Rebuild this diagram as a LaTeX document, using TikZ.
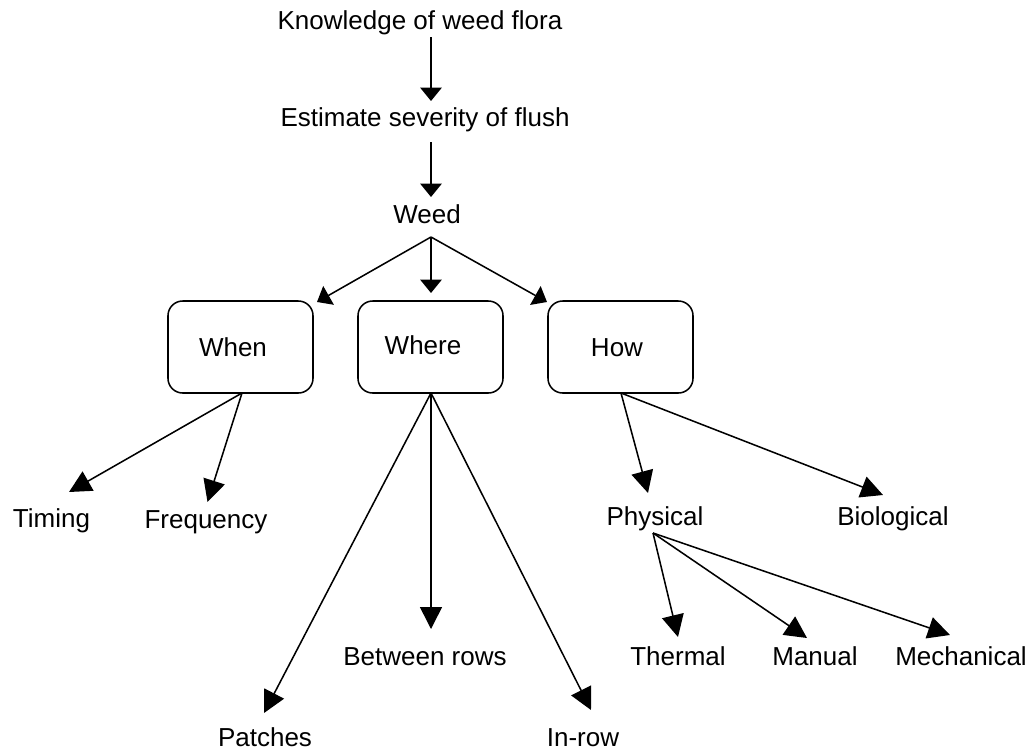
\documentclass[tikz,border=0pt]{standalone}
\usepackage{fontspec}
\setmainfont{Liberation Sans}
\usetikzlibrary{arrows.meta}
\begin{document}
\begin{tikzpicture}[x=0.75pt,y=-0.75pt,
  lbl/.style={font=\fontsize{19.5}{23}\selectfont, inner sep=0pt, anchor=base},
  box/.style={draw, line width=1.15pt, rounded corners=11pt, inner sep=0pt, outer sep=0pt,
              minimum width=108.75pt, minimum height=69pt},
  conn/.style={line width=1.15pt, -{Triangle[length=16.5pt,width=16.5pt]}},
  shortconn/.style={line width=1.15pt, -{Triangle[length=10pt,width=16pt]}}]
\useasboundingbox (0,0) rectangle (1036,751);

% text nodes
\node[lbl] (know) at (420,29) {Knowledge of weed flora};
\node[lbl] (est) at (425,126) {Estimate severity of flush};
\node[lbl] (weed) at (427,223) {Weed};

\node[box] (whenbox) at (240.5,347) {};
\node[box] (wherebox) at (430.5,347) {};
\node[box] (howbox) at (620.5,347) {};
\node[lbl] (when) at (233,356) {When};
\node[lbl] (where) at (423,354) {Where};
\node[lbl] (how) at (617,356) {How};

\node[lbl] (timing) at (51.5,527) {Timing};
\node[lbl] (freq) at (206,528) {Frequency};
\node[lbl] (between) at (425,665) {Between rows};
\node[lbl] (patches) at (265,746) {Patches};
\node[lbl] (inrow) at (583,746) {In-row};
\node[lbl] (phys) at (655,525) {Physical};
\node[lbl] (bio) at (893,525) {Biological};
\node[lbl] (thermal) at (678,665) {Thermal};
\node[lbl] (manual) at (815,665) {Manual};
\node[lbl] (mech) at (961,665) {Mechanical};

% connection points
\coordinate (knowout) at (431,37);
\coordinate (estin) at (431,101);
\coordinate (estout) at (431,142);
\coordinate (weedin) at (431,197);
\coordinate (weedout) at (431,237);
\coordinate (whenin) at (317,302);
\coordinate (wherein) at (431,293);
\coordinate (howin) at (547,302);
\coordinate (whenout) at (242,393);
\coordinate (wherout) at (431,393);
\coordinate (howout) at (621,393);
\coordinate (timingin) at (69,492);
\coordinate (freqin) at (207.5,502);
\coordinate (patchesin) at (264,713);
\coordinate (betweenin) at (431,629);
\coordinate (inrowin) at (591,710);
\coordinate (physin) at (648,493);
\coordinate (bioin) at (883,495);
\coordinate (physout) at (653,533);
\coordinate (thermalin) at (678,637);
\coordinate (manualin) at (807,638);
\coordinate (mechin) at (950,635);

% connectors
\draw[shortconn] (knowout) -- (estin);
\draw[shortconn] (estout) -- (weedin);
\draw[shortconn] (weedout) -- (whenin);
\draw[shortconn] (weedout) -- (wherein);
\draw[shortconn] (weedout) -- (howin);

\draw[conn] (whenout) -- (timingin);
\draw[conn] (whenout) -- (freqin);
\draw[conn] (wherout) -- (patchesin);
\draw[conn] (wherout) -- (betweenin);
\draw[conn] (wherout) -- (inrowin);
\draw[conn] (howout) -- (physin);
\draw[conn] (howout) -- (bioin);
\draw[conn] (physout) -- (thermalin);
\draw[conn] (physout) -- (manualin);
\draw[conn] (physout) -- (mechin);
\end{tikzpicture}
\end{document}
